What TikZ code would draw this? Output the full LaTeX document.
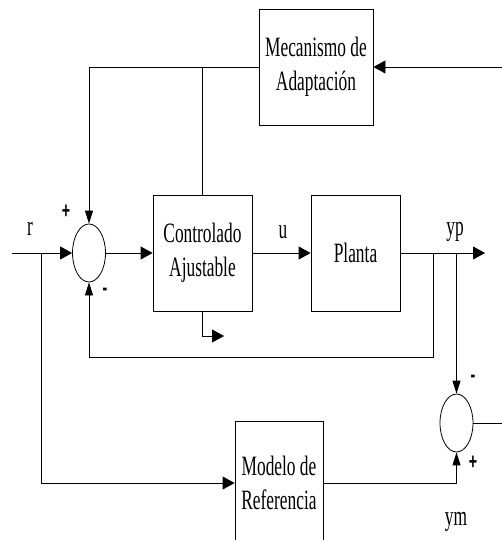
\documentclass[tikz,border=0pt]{standalone}
\usepackage{fontspec}
\setmainfont[FakeStretch=0.62]{Liberation Serif}
\newfontfamily\sgnfont[FakeStretch=0.62]{Liberation Sans}
\usetikzlibrary{arrows.meta,positioning,shapes.geometric}

\begin{document}
\begin{tikzpicture}[x=1pt,y=-1pt,blk/.style={draw,line width=.8pt,align=center,inner sep=0pt,font=\fontsize{28}{34}\selectfont},sumj/.style={draw,ellipse,line width=.8pt,minimum width=33pt,minimum height=58pt,inner sep=0pt},sig/.style={->,>={Triangle[length=12pt,width=13pt]},line width=.8pt},sigv/.style={->,>={Triangle[length=13pt,width=8pt]},line width=.8pt},lbl/.style={font=\fontsize{28}{34}\selectfont},sgn/.style={font=\sgnfont\bfseries\fontsize{23}{23}\selectfont}]
\useasboundingbox (0,0) rectangle (502,540);

\node[blk,minimum width=114pt,minimum height=116pt] (mec) at(316,67) {Mecanismo de\\Adaptación};
\node[blk,minimum width=99pt,minimum height=116pt] (ctrl) at(202.5,253) {Controlado\\Ajustable};
\node[blk,minimum width=89pt,minimum height=116pt] (planta) at(355.5,253) {Planta};
\node[blk,minimum width=88pt,minimum height=124pt] (modelo) at(279,483) {Modelo de\\Referencia};
\node[sumj] (s1) at(89,253) {};
\node[sumj] (s2) at(456.5,423) {};

\coordinate (rin) at(12,253);
\coordinate (rb) at(41,253);
\coordinate (ypout) at(485,253);
\coordinate (ypa) at(433,253);
\coordinate (ypb) at(456.5,253);
\coordinate (adin) at(502,67);
\coordinate (eout) at(502,423);
\coordinate (aux) at(224,336);

\draw[sig] (rin)--(s1.west);
\draw[sig] (s1)--(ctrl);
\draw[sig] (ctrl)--(planta);
\draw[sig] (planta)--(ypout);
\draw[sigv] (ypa)--++(0,104)-|(s1.south);
\draw[sigv] (ypb)--(s2.north);
\draw[sig] (rb)|-(modelo.west);
\draw[sigv] (modelo.east)-|(s2.south);
\draw (s2.east)--(eout);
\draw[sig] (adin)--(mec.east);
\draw[sigv] (mec.west)-|(s1.north);
\draw (ctrl.north)--(ctrl.north|-mec.west);
\draw[sig] (ctrl.south)|-(aux);

\node[lbl] (rlbl) at(30,229) {r};
\node[lbl] (ulbl) at(283,232) {u};
\node[lbl] (yplbl) at(455,232) {yp};
\node[lbl] (ymlbl) at(456,522) {ym};
\node[sgn] (p1) at(66,212) {+};
\node[sgn] (m1) at(105,292) {-};
\node[sgn] (m2) at(473,379) {-};
\node[sgn] (p2) at(473,463) {+};
\end{tikzpicture}
\end{document}
